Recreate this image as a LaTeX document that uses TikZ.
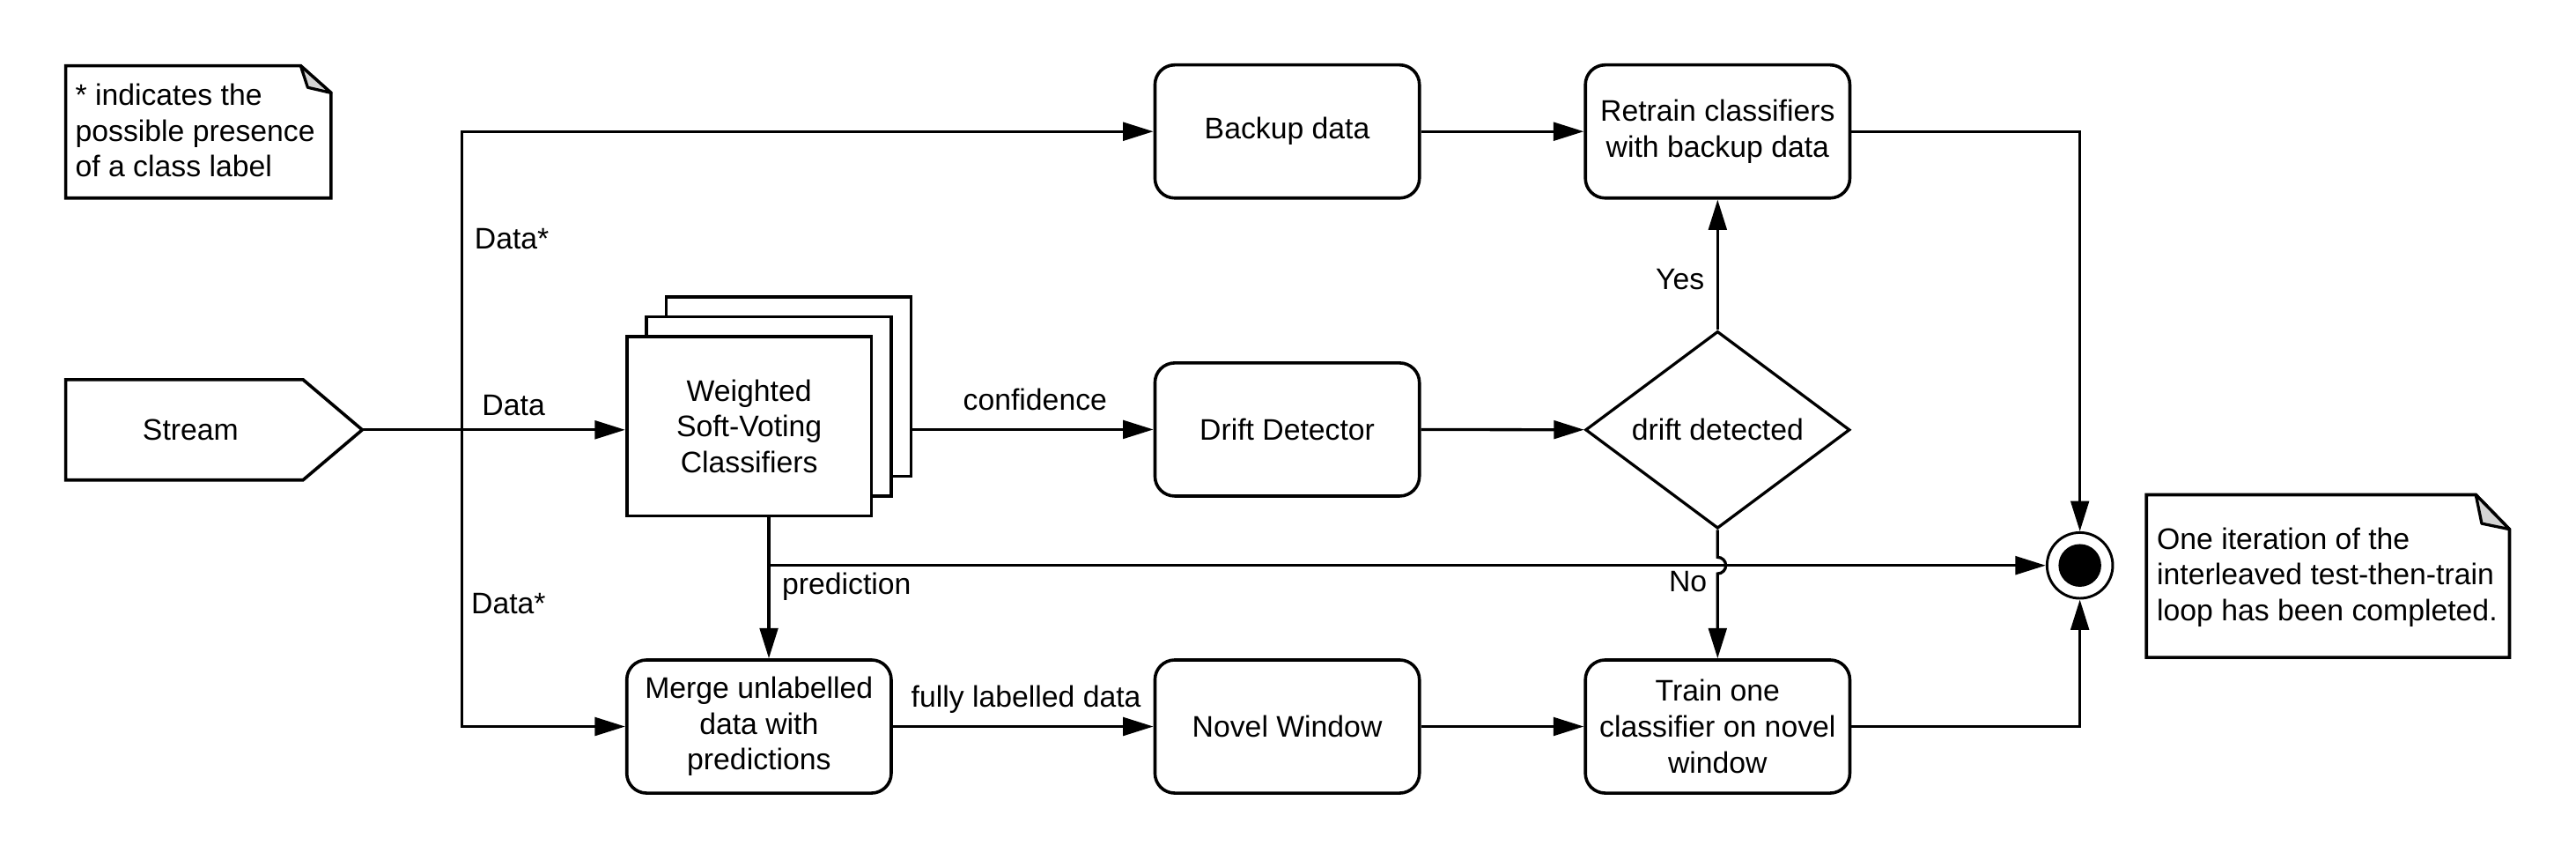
\documentclass[tikz,border=0pt]{standalone}
\usepackage{fontspec}
\setmainfont{Liberation Sans}
\usetikzlibrary{arrows.meta,calc,positioning,shapes.geometric}

\begin{document}
\begin{tikzpicture}
[
	               x = 0.02cm,
	               y = -0.02cm,
	      line width = 1pt,
	              >= {Triangle[length=10.5pt, width=6.3pt]},
	            font = \fontsize{10.3pt}{12.4pt}\selectfont,
	  process/.style = { draw=black, line width=1.1pt, rounded corners=0.24cm, minimum width=3.22cm, minimum height=1.62cm, inner sep=1pt, align=center },
	 stackbox/.style = { draw=black, fill=white, line width=1.1pt, minimum width=2.98cm, minimum height=2.18cm, inner sep=1pt, align=center },
	 decision/.style = { draw=black, diamond, line width=1pt, minimum width=3.22cm, minimum height=2.4cm, inner sep=0pt, align=center },
	    final/.style = { draw=black, circle, line width=0.9pt, minimum size=0.8cm, inner sep=0pt,
	                     path picture={\fill[black] (path picture bounding box.center) circle (0.26cm);} },
	  outline/.style = { draw=black, line width=1.1pt, line join=miter },
	     flap/.style = { draw=black, fill=black!17, line width=1pt, line join=round },
	    plain/.style = { draw=none, inner sep=0pt, align=center },
	edgelabel/.style = { draw=none, inner sep=0pt, anchor=base west },
	 notetext/.style = { draw=none, inner sep=0pt, anchor=north west, align=left }
]

    \useasboundingbox (0,0) rectangle (1568,523);

    \draw[outline] (40,40) -- (183,40) -- (201.5,56.5) -- (201.5,120.5) -- (40,120.5) -- cycle;
    \draw[flap]    (183,40) -- (187.3,53.2) -- (201.5,56.5) -- cycle;
    \node (KeyNoteText)      at (45,50)       [notetext]  {* indicates the\\possible presence\\of a class label};

    \coordinate (StreamTip)  at (220.5,261.5);
    \coordinate (DataSplit)  at (281,261.5);
    \draw[outline] (40,231) -- (184.5,231) -- (StreamTip) -- (184.5,292) -- (40,292) -- cycle;
    \node (StreamText)       at (116,261.5)   [plain]     {Stream};

    \node (ClassifiersBack)  at (480,235.3)   [stackbox]  {};
    \node (ClassifiersMid)   at (468,247.3)   [stackbox]  {};
    \node (Classifiers)      at (456,259.3)   [stackbox]  {Weighted\\Soft-Voting\\Classifiers};

    \node (Backup)           at (783.5,80)    [process]   {Backup data};
    \node (Retrain)          at (1045.5,80)   [process]   {Retrain classifiers\\with backup data};
    \node (Drift)            at (783.5,261.3) [process]   {Drift Detector};
    \node (Decision)         at (1045.5,261.5)[decision]  {drift detected};
    \node (Merge)            at (462,442)     [process]   {Merge unlabelled\\data with\\predictions};
    \node (Novel)            at (783.5,442)   [process]   {Novel Window};
    \node (Train)            at (1045.5,442)  [process]   {Train one\\classifier on novel\\window};
    \node (Final)            at (1266,344)    [final]     {};

    \draw[outline] (1306.5,301) -- (1507,301) -- (1527.5,322) -- (1527.5,400) -- (1306.5,400) -- cycle;
    \draw[flap]    (1507,301) -- (1510.6,318.5) -- (1527.5,322) -- cycle;
    \node (LoopNoteText)     at (1312,320)    [notetext]  {One iteration of the\\interleaved test-then-train\\loop has been completed.};

    \coordinate (PredSplit)  at (ClassifiersMid |- Final);
    \coordinate (HopTop)     at (1045.5,339);

    \draw[->] (StreamTip) -- (StreamTip -| Classifiers.west);
    \draw[->] (DataSplit) |- (Backup.west);
    \draw[->] (DataSplit) |- (Merge.west);
    \draw[->] (Drift.west -| ClassifiersBack.east) -- (Drift.west);
    \draw[->] (Backup) -- (Retrain);
    \draw[->] (Drift) -- (Decision);
    \draw[->] (Decision) -- (Retrain);
    \draw[->] (Retrain.east) -| (Final.north);
    \draw[->] (Classifiers.south -| PredSplit) -- (Merge.north -| PredSplit);
    \draw[->] (PredSplit) -- (Final);
    \draw[->] (Decision.south) -- (HopTop) arc[start angle=90, end angle=-90, radius=0.1cm] -- (Train.north);
    \draw[->] (Merge) -- (Novel);
    \draw[->] (Novel) -- (Train);
    \draw[->] (Train.east) -| (Final.south);

    \node (DataLabel)        at (292.6,252.5) [edgelabel] {Data};
    \node (UpperDataLabel)   at (288,151.5)   [edgelabel] {Data*};
    \node (LowerDataLabel)   at (286,373.6)   [edgelabel] {Data*};
    \node (ConfidenceLabel)  at (585.4,249.7) [edgelabel] {confidence};
    \node (PredictionLabel)  at (475.2,361.5) [edgelabel] {prediction};
    \node (FullyLabel)       at (553.8,430.4) [edgelabel] {fully labelled data};
    \node (YesLabel)         at (1007,176.2)  [edgelabel] {Yes};
    \node (NoLabel)          at (1015,360.1)  [edgelabel] {No};

\end{tikzpicture}
\end{document}
